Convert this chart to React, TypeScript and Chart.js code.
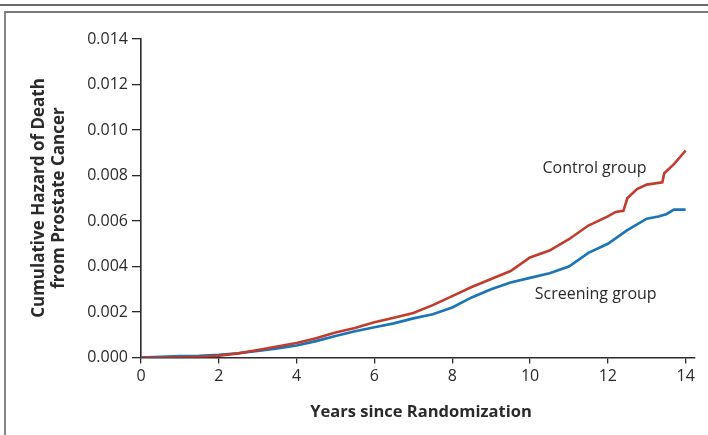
import React, { useEffect, useRef } from "react";
import { Chart, registerables } from "chart.js";

Chart.register(...registerables);

// ---- data ----
const CONTROL_T = [0, 0.5, 1.0, 1.5, 2.0, 2.5, 3.0, 3.5, 4.0, 4.5, 5.0, 5.5, 6.0, 6.5, 7.0, 7.5, 8.0, 8.5, 9.0, 9.5, 10.0, 10.5, 11.0, 11.5, 12.0, 12.2, 12.4, 12.5, 12.75, 13.0, 13.4, 13.45, 13.7, 13.9, 14.0];
const CONTROL_V = [0, 0, 0.00001, 0.00003, 0.00008, 0.00018, 0.00033, 0.00048, 0.00064, 0.00085, 0.0011, 0.0013, 0.00155, 0.00175, 0.00196, 0.0023, 0.0027, 0.0031, 0.00345, 0.0038, 0.0044, 0.0047, 0.0052, 0.0058, 0.0062, 0.0064, 0.00645, 0.007, 0.0074, 0.0076, 0.0077, 0.0081, 0.0085, 0.0089, 0.0091];

const SCREEN_T = [0, 0.5, 1.0, 1.5, 2.0, 2.5, 3.0, 3.5, 4.0, 4.5, 5.0, 5.5, 6.0, 6.5, 7.0, 7.5, 8.0, 8.5, 9.0, 9.5, 10.0, 10.5, 11.0, 11.5, 12.0, 12.5, 13.0, 13.3, 13.5, 13.7, 14.0];
const SCREEN_V = [0, 0.00003, 0.00006, 0.00008, 0.00012, 0.00019, 0.00029, 0.0004, 0.00053, 0.00072, 0.00095, 0.00115, 0.00133, 0.0015, 0.00172, 0.0019, 0.0022, 0.00264, 0.003, 0.0033, 0.0035, 0.0037, 0.004, 0.0046, 0.005, 0.0056, 0.0061, 0.0062, 0.0063, 0.0065, 0.0065];

const X_TICKS = [0, 2, 4, 6, 8, 10, 12, 14];
const Y_TICKS = [0, 0.002, 0.004, 0.006, 0.008, 0.01, 0.012, 0.014];

const X_TITLE = "Years since Randomization";
const Y_TITLE = ["Cumulative Hazard of Death", "from Prostate Cancer"];
const CONTROL_LABEL = "Control group";
const SCREEN_LABEL = "Screening group";

const FONT = "'Open Sans', 'Noto Sans', sans-serif";
const RED = "#c23b2b";
const BLUE = "#1a74b8";
const AXIS = "#2b2b2b";
const TEXT = "#2a2a2a";

const framePlugin = {
  id: "frame",
  beforeDraw(chart: any) {
    const ctx = chart.ctx;
    ctx.save();
    ctx.fillStyle = "#ffffff";
    ctx.fillRect(0, 0, chart.width, chart.height);
    ctx.strokeStyle = "#6a6a6a";
    ctx.lineWidth = 2.2;
    ctx.beginPath();
    ctx.moveTo(0, 5);
    ctx.lineTo(chart.width, 5);
    ctx.stroke();
    ctx.strokeStyle = "#7a7a7a";
    ctx.lineWidth = 1.8;
    ctx.beginPath();
    ctx.moveTo(chart.width, 12);
    ctx.lineTo(5, 12);
    ctx.lineTo(5, chart.height);
    ctx.stroke();
    ctx.restore();
  },
  afterDraw(chart: any) {
    const ctx = chart.ctx;
    const xs = chart.scales.x;
    const ys = chart.scales.y;
    ctx.save();
    ctx.fillStyle = TEXT;
    // x title
    ctx.font = `bold 16.5px ${FONT}`;
    ctx.textAlign = "center";
    ctx.textBaseline = "alphabetic";
    ctx.fillText(X_TITLE, 421, 416.5);
    // y title (rotated, two lines)
    ctx.font = `bold 17px ${FONT}`;
    ctx.save();
    ctx.translate(0, 198);
    ctx.rotate(-Math.PI / 2);
    ctx.fillText(Y_TITLE[0], 0, 43.5);
    ctx.fillText(Y_TITLE[1], 0, 63.5);
    ctx.restore();
    // series labels
    ctx.font = `16px ${FONT}`;
    ctx.textAlign = "left";
    ctx.textBaseline = "middle";
    ctx.fillText(CONTROL_LABEL, xs.getPixelForValue(10.32), ys.getPixelForValue(0.0083));
    ctx.fillText(SCREEN_LABEL, xs.getPixelForValue(10.12), ys.getPixelForValue(0.00278));
    ctx.restore();
  },
};

export default function App() {
  const ref = useRef<HTMLCanvasElement | null>(null);

  useEffect(() => {
    if (!ref.current) return;
    const chart = new Chart(ref.current, {
      type: "line",
      data: {
        datasets: [
          {
            label: CONTROL_LABEL,
            data: CONTROL_T.map((t, i) => ({ x: t, y: CONTROL_V[i] })),
            borderColor: RED,
            borderWidth: 2.6,
            pointRadius: 0,
            tension: 0,
            fill: false,
          },
          {
            label: SCREEN_LABEL,
            data: SCREEN_T.map((t, i) => ({ x: t, y: SCREEN_V[i] })),
            borderColor: BLUE,
            borderWidth: 2.6,
            pointRadius: 0,
            tension: 0,
            fill: false,
          },
        ],
      },
      options: {
        animation: false,
        responsive: false,
        events: [],
        layout: { padding: { left: 0, top: 39, right: 13, bottom: 0 } },
        plugins: {
          legend: { display: false },
          tooltip: { enabled: false },
          title: { display: false },
        },
        scales: {
          x: {
            type: "linear",
            min: 0,
            max: 14.24,
            afterBuildTicks: (s: any) => {
              s.ticks = X_TICKS.map((v) => ({ value: v }));
            },
            afterFit: (s: any) => {
              s.height = 77.5;
            },
            ticks: {
              autoSkip: false,
              maxRotation: 0,
              padding: 3,
              color: TEXT,
              font: { family: FONT, size: 16 },
              callback: (v: any) => String(v),
            },
            grid: {
              display: true,
              drawOnChartArea: false,
              drawTicks: true,
              tickLength: 6,
              color: AXIS,
              lineWidth: 1.3,
            },
            border: { display: true, color: AXIS, width: 1.6 },
            title: { display: false },
          },
          y: {
            type: "linear",
            min: 0,
            max: 0.014,
            afterBuildTicks: (s: any) => {
              s.ticks = Y_TICKS.map((v) => ({ value: v }));
            },
            afterFit: (s: any) => {
              s.width = 141;
            },
            ticks: {
              autoSkip: false,
              padding: 4,
              color: TEXT,
              font: { family: FONT, size: 16 },
              callback: (v: any) => Number(v).toFixed(3),
            },
            grid: {
              display: true,
              drawOnChartArea: false,
              drawTicks: true,
              tickLength: 9,
              color: AXIS,
              lineWidth: 1.3,
            },
            border: { display: true, color: AXIS, width: 1.6 },
            title: { display: false },
          },
        },
      },
      plugins: [framePlugin],
    });
    return () => chart.destroy();
  }, []);

  return (
    <div style={{ position: "absolute", left: 0, top: 0, width: 708, height: 435, background: "#fff" }}>
      <canvas ref={ref} width={708} height={435} style={{ width: 708, height: 435, display: "block" }} />
    </div>
  );
}
